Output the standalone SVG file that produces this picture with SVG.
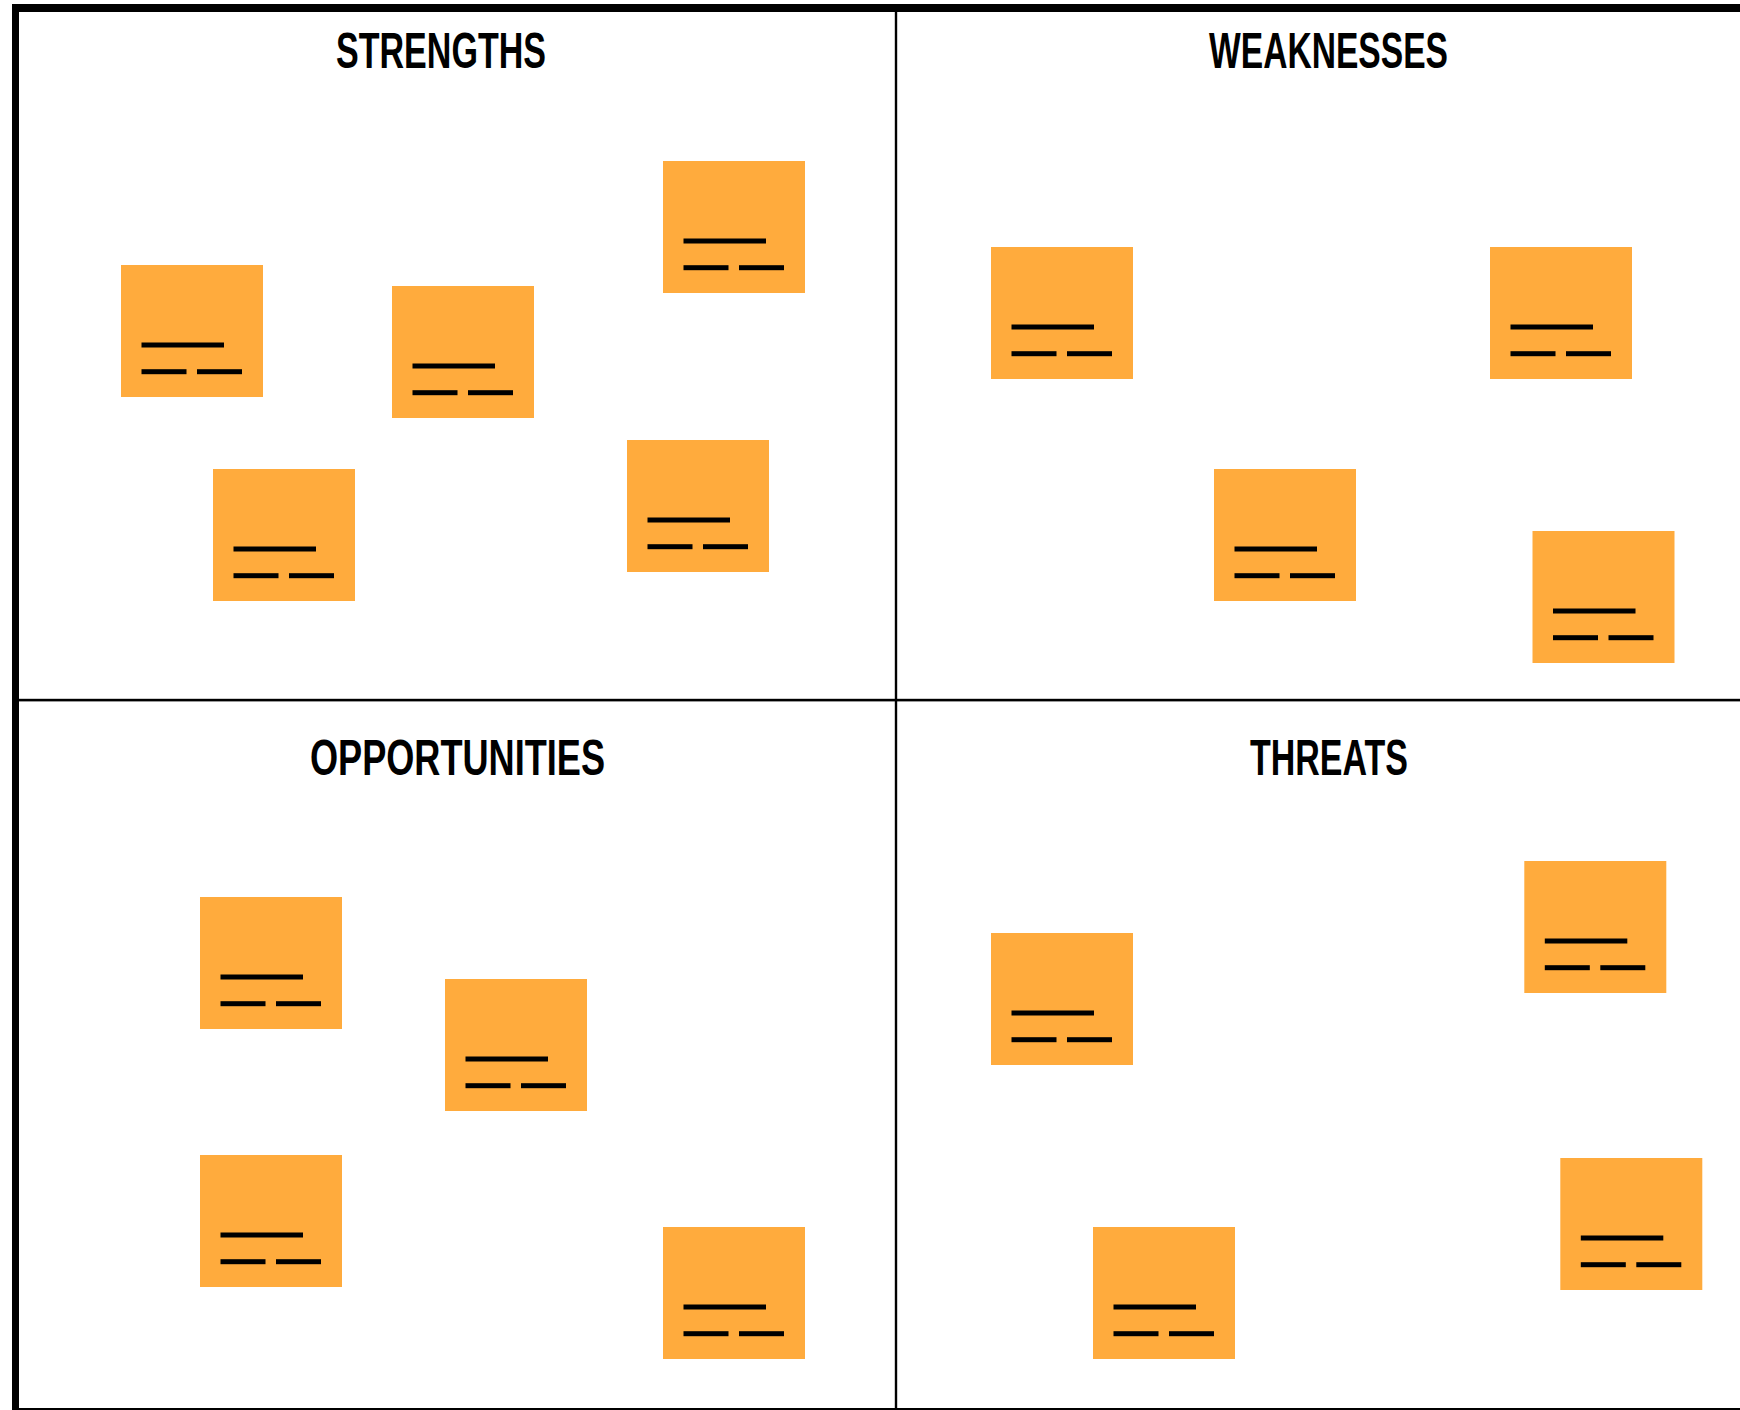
<svg xmlns="http://www.w3.org/2000/svg" width="1740" height="1410" viewBox="0 0 1740 1410">
  <style>
    .note { fill: #FFAB3D; }
    .ln { fill: #000000; }
    .title { font-family: "Liberation Sans Narrow", "Liberation Sans", "Open Sans", sans-serif; font-weight: bold; font-size: 50px; fill: #000000; }
  </style>
  <rect x="0" y="0" width="1740" height="1410" fill="#FFFFFF"/>

  <g id="frame">
    <rect x="12" y="4" width="1728" height="8" fill="#000"/>
    <rect x="12" y="4" width="7" height="1406" fill="#000"/>
    <rect x="19" y="698.8" width="1721" height="2.6" fill="#000"/>
    <rect x="894.8" y="12" width="2.4" height="1398" fill="#000"/>
    <rect x="12" y="1408" width="1728" height="2" fill="#000"/>
  </g>

  <g id="connectors"></g>

  <g id="titles">
    <text id="t-strengths" class="title" x="336" y="68" textLength="210" lengthAdjust="spacingAndGlyphs">STRENGTHS</text>
    <text id="t-weaknesses" class="title" x="1209" y="68" textLength="239" lengthAdjust="spacingAndGlyphs">WEAKNESSES</text>
    <text id="t-opportunities" class="title" x="310" y="775" textLength="295" lengthAdjust="spacingAndGlyphs">OPPORTUNITIES</text>
    <text id="t-threats" class="title" x="1250" y="775" textLength="158" lengthAdjust="spacingAndGlyphs">THREATS</text>
  </g>

  <defs>
    <g id="lines">
      <rect class="ln" x="20.5" y="77.5" width="82.5" height="5"/>
      <rect class="ln" x="20.5" y="104.2" width="45" height="5"/>
      <rect class="ln" x="76" y="104.2" width="45" height="5"/>
    </g>
  </defs>

  <g id="s1" transform="translate(121,265)"><rect class="note" width="142" height="132"/><use href="#lines"/></g>
  <g id="s2" transform="translate(392,286)"><rect class="note" width="142" height="132"/><use href="#lines"/></g>
  <g id="s3" transform="translate(663,161)"><rect class="note" width="142" height="132"/><use href="#lines"/></g>
  <g id="s4" transform="translate(213,469)"><rect class="note" width="142" height="132"/><use href="#lines"/></g>
  <g id="s5" transform="translate(627,440)"><rect class="note" width="142" height="132"/><use href="#lines"/></g>

  <g id="w1" transform="translate(991,247)"><rect class="note" width="142" height="132"/><use href="#lines"/></g>
  <g id="w2" transform="translate(1490,247)"><rect class="note" width="142" height="132"/><use href="#lines"/></g>
  <g id="w3" transform="translate(1214,469)"><rect class="note" width="142" height="132"/><use href="#lines"/></g>
  <g id="w4" transform="translate(1532.5,531)"><rect class="note" width="142" height="132"/><use href="#lines"/></g>

  <g id="o1" transform="translate(200,897)"><rect class="note" width="142" height="132"/><use href="#lines"/></g>
  <g id="o2" transform="translate(445,979)"><rect class="note" width="142" height="132"/><use href="#lines"/></g>
  <g id="o3" transform="translate(200,1155)"><rect class="note" width="142" height="132"/><use href="#lines"/></g>
  <g id="o4" transform="translate(663,1227)"><rect class="note" width="142" height="132"/><use href="#lines"/></g>

  <g id="th1" transform="translate(991,933)"><rect class="note" width="142" height="132"/><use href="#lines"/></g>
  <g id="th2" transform="translate(1524.3,861)"><rect class="note" width="142" height="132"/><use href="#lines"/></g>
  <g id="th3" transform="translate(1093,1227)"><rect class="note" width="142" height="132"/><use href="#lines"/></g>
  <g id="th4" transform="translate(1560.3,1158)"><rect class="note" width="142" height="132"/><use href="#lines"/></g>
</svg>
